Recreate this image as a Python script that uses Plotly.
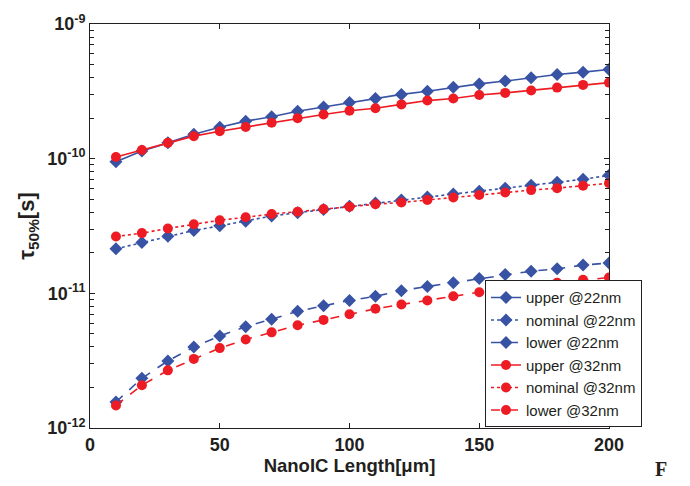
import plotly.graph_objects as go

x_len = [10, 20, 30, 40, 50, 60, 70, 80, 90, 100, 110, 120, 130, 140, 150, 160, 170, 180, 190, 200]

upper_22 = [9.5e-11, 1.14e-10, 1.31e-10, 1.52e-10, 1.71e-10, 1.90e-10, 2.05e-10, 2.25e-10, 2.42e-10, 2.61e-10,
            2.80e-10, 3.00e-10, 3.17e-10, 3.39e-10, 3.59e-10, 3.77e-10, 3.99e-10, 4.22e-10, 4.39e-10, 4.59e-10]
nominal_22 = [2.14e-11, 2.38e-11, 2.65e-11, 2.93e-11, 3.17e-11, 3.43e-11, 3.75e-11, 3.97e-11, 4.19e-11, 4.44e-11,
              4.69e-11, 4.94e-11, 5.19e-11, 5.46e-11, 5.74e-11, 6.04e-11, 6.35e-11, 6.68e-11, 7.03e-11, 7.52e-11]
lower_22 = [1.56e-12, 2.34e-12, 3.15e-12, 3.99e-12, 4.83e-12, 5.65e-12, 6.43e-12, 7.35e-12, 8.08e-12, 8.85e-12,
            9.51e-12, 1.047e-11, 1.125e-11, 1.20e-11, 1.29e-11, 1.38e-11, 1.46e-11, 1.52e-11, 1.62e-11, 1.68e-11]
upper_32 = [1.03e-10, 1.16e-10, 1.31e-10, 1.47e-10, 1.60e-10, 1.72e-10, 1.85e-10, 2.00e-10, 2.13e-10, 2.27e-10,
            2.37e-10, 2.53e-10, 2.70e-10, 2.80e-10, 2.97e-10, 3.08e-10, 3.21e-10, 3.37e-10, 3.53e-10, 3.67e-10]
nominal_32 = [2.64e-11, 2.80e-11, 3.03e-11, 3.26e-11, 3.49e-11, 3.67e-11, 3.88e-11, 4.04e-11, 4.22e-11, 4.39e-11,
              4.59e-11, 4.73e-11, 4.94e-11, 5.15e-11, 5.37e-11, 5.60e-11, 5.84e-11, 6.04e-11, 6.30e-11, 6.57e-11]
lower_32 = [1.47e-12, 2.08e-12, 2.68e-12, 3.26e-12, 3.92e-12, 4.54e-12, 5.13e-12, 5.79e-12, 6.35e-12, 7.00e-12,
            7.68e-12, 8.27e-12, 8.85e-12, 9.51e-12, 1.02e-11, 1.07e-11, 1.125e-11, 1.20e-11, 1.26e-11, 1.31e-11]

series_names = ["upper @22nm", "nominal @22nm", "lower @22nm", "upper @32nm", "nominal @32nm", "lower @32nm"]
series_vals = [upper_22, nominal_22, lower_22, upper_32, nominal_32, lower_32]

y_tickvals = [1e-12, 1e-11, 1e-10, 1e-9]
y_ticktext = ["10<sup>-12</sup>", "10<sup>-11</sup>", "10<sup>-10</sup>", "10<sup>-9</sup>"]
y_minor_vals = [m * d for d in (1e-12, 1e-11, 1e-10) for m in range(2, 10)]
x_tickvals = [0, 50, 100, 150, 200]

BLUE = "#3953a4"
RED = "#ed1c24"
INK = "#231f20"
FONT = "Liberation Sans, Arial, sans-serif"
dashes = ["solid", "dot", "dash"]

fig = go.Figure()
for i, (name, vals) in enumerate(zip(series_names, series_vals)):
    is22 = i < 3
    fig.add_trace(go.Scatter(
        x=x_len, y=vals, name=name, mode="lines+markers",
        line=dict(color=BLUE if is22 else RED, width=1.6, dash=dashes[i % 3]),
        marker=dict(symbol="diamond" if is22 else "circle",
                    size=10 if is22 else 10,
                    color=BLUE if is22 else RED,
                    line=dict(width=0)),
    ))

axis_font = dict(family=FONT, size=18, color=INK, weight="bold")

fig.update_layout(
    width=690, height=486,
    margin=dict(l=90, r=81, t=18, b=58),
    paper_bgcolor="white", plot_bgcolor="white",
    showlegend=True,
    legend=dict(x=(642 - 90) / 519, y=0.002, xanchor="right", yanchor="bottom",
                bgcolor="white", bordercolor=INK, borderwidth=1,
                font=dict(family=FONT, size=15, color=INK),
                tracegroupgap=0),
    xaxis=dict(range=[0, 200], tickvals=x_tickvals, ticks="inside", ticklen=5, tickcolor=INK,
               showgrid=False, zeroline=False, showline=True, linecolor=INK, linewidth=1,
               mirror="allticks", tickfont=axis_font,
               title=dict(text="NanoIC Length[μm]", font=dict(family=FONT, size=18.5, color=INK, weight="bold"),
                          standoff=0)),
    yaxis=dict(type="log", range=[-12, -9], tickvals=y_tickvals, ticktext=y_ticktext,
               ticks="inside", ticklen=5, tickcolor=INK, showgrid=False, zeroline=False, showline=True,
               linecolor=INK, linewidth=1, mirror="allticks", tickfont=axis_font,
               minor=dict(tickvals=y_minor_vals, ticks="inside", ticklen=4, showgrid=False, tickcolor=INK),
               title=dict(text="τ<sub>50%</sub>[s]", font=dict(family=FONT, size=22, color=INK, weight="bold"),
                          standoff=6)),
    annotations=[dict(text="<b>F</b>", x=(661 - 90) / 519, y=(428 - 470) / 410, xref="paper", yref="paper",
                      xanchor="center", yanchor="middle", showarrow=False,
                      font=dict(family="Liberation Serif, Times New Roman, serif", size=20, color=INK))],
)

fig.write_html("out.html")
